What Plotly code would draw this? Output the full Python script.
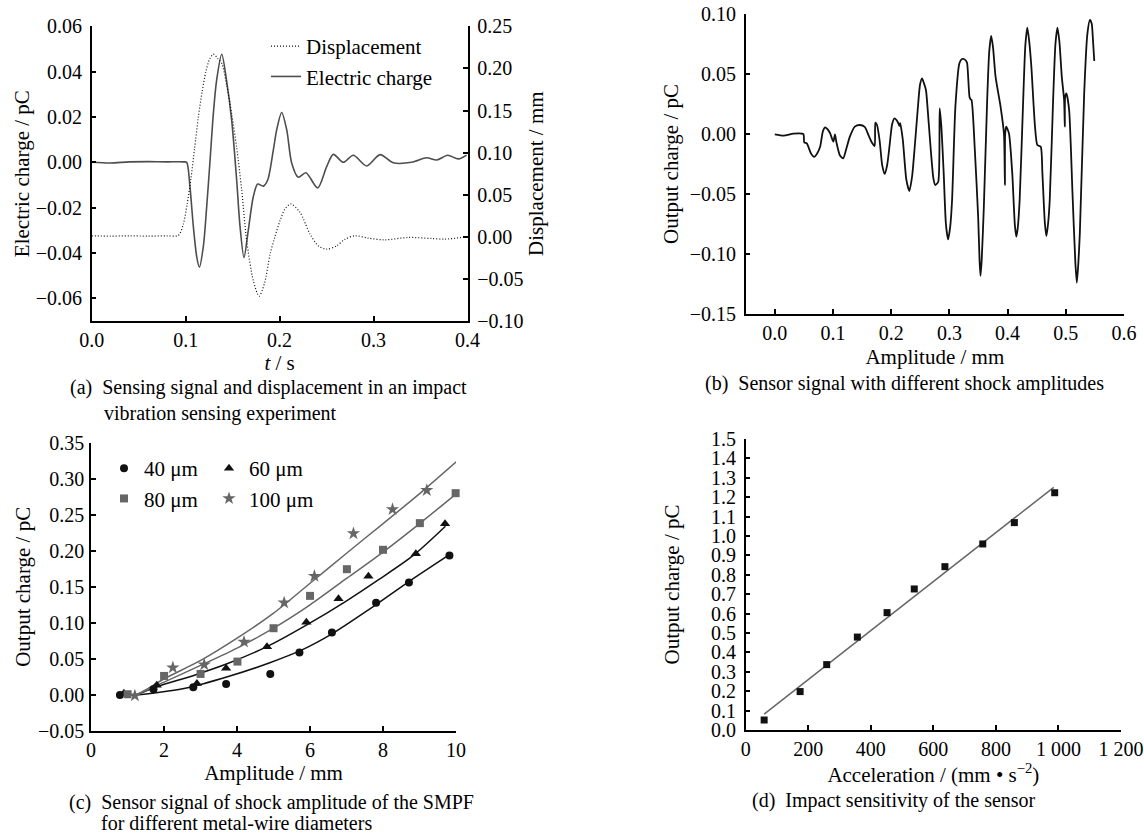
import plotly.graph_objects as go

FONT = "Liberation Serif"
W, H = 1144, 835

# ---------------- Panel (a) ----------------
a_charge_t = [0.0, 0.02, 0.04, 0.06, 0.08, 0.098, 0.1011, 0.1046, 0.1082, 0.1118, 0.1146, 0.1188,
              0.1224, 0.126, 0.1295, 0.1330, 0.1384, 0.1437, 0.149, 0.1543, 0.1579, 0.1621, 0.1667,
              0.172, 0.1767, 0.1827, 0.1873, 0.1933, 0.1969, 0.2022, 0.2076, 0.2129, 0.2199, 0.2280,
              0.2405, 0.2501, 0.2572, 0.2678, 0.2785, 0.2927, 0.3069, 0.321, 0.3406, 0.3566, 0.3672,
              0.3789, 0.3902, 0.399]
a_charge_v = [0.0, -0.0003, 0.0002, 0.0003, 0.0002, 0.0002, 0.0, -0.0108, -0.0284, -0.0417, -0.0463,
              -0.0372, -0.0196, 0.001, 0.0216, 0.0363, 0.0477, 0.0356, 0.0185, -0.0078, -0.0284,
              -0.0420, -0.0299, -0.0152, -0.0096, -0.0105, -0.0078, 0.0054, 0.0143, 0.022, 0.0143,
              -0.0004, -0.0066, -0.0046, -0.0113, -0.0019, 0.0035, 0.0, 0.0031, -0.0016, 0.0034,
              -0.0002, 0.0, 0.002, 0.001, 0.0031, 0.0015, 0.0032]

a_disp_t = [0.0, 0.02, 0.04, 0.06, 0.08, 0.0922, 0.0975, 0.1015, 0.1055, 0.1095, 0.1135, 0.1175,
            0.1215, 0.1255, 0.1295, 0.1340, 0.1384, 0.1437, 0.149, 0.1543, 0.1597, 0.165, 0.1721,
            0.1782, 0.1840, 0.1898, 0.1950, 0.2004, 0.2057, 0.2120, 0.2217, 0.2324, 0.2412, 0.2501,
            0.2608, 0.2696, 0.2803, 0.2944, 0.3122, 0.337, 0.3619, 0.376, 0.399]
a_disp_v = [0.0012, 0.0008, 0.0012, 0.0008, 0.0012, 0.0015, 0.015, 0.038, 0.068, 0.105, 0.142, 0.172,
            0.196, 0.211, 0.217, 0.212, 0.206, 0.180, 0.146, 0.106, 0.055, -0.005, -0.0525,
            -0.0705, -0.055, -0.021, 0.0, 0.019, 0.033, 0.039, 0.029, 0.0032, -0.0107, -0.0147,
            -0.0107, -0.0028, 0.0012, -0.0016, -0.0036, -0.0008, -0.002, -0.0028, 0.0]

# ---------------- Panel (b) ----------------
b_amp = [0.0, 0.0153, 0.032, 0.049, 0.0506, 0.055, 0.062, 0.0676, 0.073, 0.078, 0.0825, 0.0864,
         0.0905, 0.095, 0.1006, 0.1034, 0.106, 0.112, 0.1176, 0.123, 0.129, 0.1375, 0.146, 0.1545,
         0.161, 0.166, 0.1716, 0.1727, 0.1756, 0.18, 0.1845, 0.1886, 0.193, 0.197, 0.2015, 0.2057,
         0.211, 0.2142, 0.2155, 0.22, 0.226, 0.2312, 0.236, 0.24, 0.2455, 0.2495, 0.253, 0.2565,
         0.2597, 0.264, 0.268, 0.2725, 0.2756, 0.2807, 0.2833, 0.2862, 0.2902, 0.294, 0.2977,
         0.3012, 0.3046, 0.3103, 0.3172, 0.3215, 0.3247, 0.3285, 0.3305, 0.3345, 0.3362, 0.338,
         0.3437, 0.3494, 0.3518, 0.3534, 0.3555, 0.3592, 0.3649, 0.3685, 0.3718, 0.375, 0.3793,
         0.3879, 0.3937, 0.3954, 0.3958, 0.3977, 0.4023, 0.408, 0.4125, 0.415, 0.4175, 0.4207,
         0.4264, 0.4305, 0.4339, 0.4372, 0.4408, 0.4471, 0.4511, 0.4569, 0.4598, 0.464, 0.4667,
         0.4695, 0.4724, 0.4782, 0.4822, 0.4856, 0.489, 0.4931, 0.4971, 0.4983, 0.4989, 0.5011,
         0.5057, 0.5115, 0.5165, 0.519, 0.5215, 0.5241, 0.5316, 0.537, 0.5414, 0.5445, 0.546,
         0.5489]
b_charge = [-0.0003, -0.0014, 0.0003, 0.0, -0.007, -0.0078, -0.016, -0.019, -0.016, -0.0105, 0.002,
            0.0056, 0.004, 0.0006, -0.0064, -0.0003, -0.0072, -0.018, -0.0203, -0.012, -0.0022,
            0.0061, 0.0075, 0.006, -0.001, -0.0064, -0.010, 0.0094, 0.0075, -0.005, -0.026,
            -0.0333, -0.026, -0.0106, 0.008, 0.013, 0.0103, 0.0067, 0.009, -0.005, -0.038, -0.0475,
            -0.035, -0.0133, 0.02, 0.041, 0.0464, 0.042, 0.0367, 0.012, -0.0133, -0.037, -0.0425,
            -0.040, 0.0214, 0.006, -0.0328, -0.075, -0.0878, -0.078, -0.055, 0.0228, 0.0589,
            0.0625, 0.0625, 0.061, 0.0589, 0.031, 0.029, 0.0283, -0.0133, -0.0689, -0.105, -0.1183,
            -0.105, -0.0606, 0.0283, 0.069, 0.0817, 0.072, 0.0478, 0.0228, 0.0006, -0.0425, 0.0,
            0.0061, 0.0006, -0.0328, -0.076, -0.0856, -0.078, -0.055, 0.0228, 0.074, 0.0886, 0.077,
            0.0561, 0.0061, -0.0092, -0.0106, -0.0328, -0.074, -0.085, -0.075, -0.055, 0.0283,
            0.075, 0.0886, 0.077, 0.0478, 0.0283, 0.0061, 0.031, 0.0339, 0.02, -0.0494, -0.108,
            -0.1239, -0.108, -0.0828, 0.0339, 0.083, 0.095, 0.092, 0.0839, 0.0608]

# ---------------- Panel (c) ----------------
c_x40 = [0.79, 1.71, 2.8, 3.7, 4.91, 5.71, 6.6, 7.81, 8.71, 9.82]
c_y40 = [0.0, 0.008, 0.0107, 0.0153, 0.029, 0.0588, 0.0866, 0.128, 0.156, 0.1935]
c_x60 = [0.9, 1.8, 2.9, 3.7, 4.82, 5.9, 6.78, 7.6, 8.9, 9.7]
c_y60 = [0.0025, 0.0135, 0.016, 0.037, 0.067, 0.101, 0.1335, 0.1648, 0.1958, 0.2375]
c_x80 = [1.0, 2.0, 3.0, 4.01, 5.0, 6.0, 7.01, 8.0, 9.01, 9.99]
c_y80 = [0.001, 0.0264, 0.0292, 0.0463, 0.0926, 0.1375, 0.1745, 0.2014, 0.2384, 0.28]
c_x100 = [1.2, 2.24, 3.1, 4.19, 5.29, 6.12, 7.19, 8.26, 9.2, 10.27]
c_y100 = [-0.001, 0.038, 0.0421, 0.0736, 0.128, 0.165, 0.224, 0.2575, 0.284, 0.33]

c_fit40_x = [1.0, 1.2, 2.58, 3.76, 4.86, 5.78, 6.6, 7.6, 8.7, 9.8]
c_fit40_y = [0.0, 0.0, 0.0093, 0.0255, 0.044, 0.0625, 0.0847, 0.118, 0.157, 0.194]
c_fit60_x = [1.0, 1.2, 1.8, 2.85, 3.76, 4.82, 5.91, 6.97, 7.88, 8.84, 9.71]
c_fit60_y = [0.001, 0.0, 0.0115, 0.0278, 0.044, 0.067, 0.0972, 0.1296, 0.16, 0.194, 0.234]
c_fit80_x = [1.0, 1.2, 2.03, 3.03, 4.0, 5.0, 6.0, 7.01, 8.02, 9.02, 9.98]
c_fit80_y = [0.001, 0.0, 0.0185, 0.0417, 0.065, 0.0926, 0.125, 0.162, 0.199, 0.2385, 0.278]
c_fit100_x = [1.0, 1.2, 2.03, 3.03, 4.0, 5.0, 6.0, 7.01, 8.02, 9.02, 10.2]
c_fit100_y = [0.001, 0.0, 0.0232, 0.0486, 0.0787, 0.1135, 0.155, 0.197, 0.2385, 0.28, 0.332]

c_names = ["40 μm", "60 μm", "80 μm", "100 μm"]

# ---------------- Panel (d) ----------------
d_acc = [59, 174, 259, 357, 452, 539, 637, 758, 859, 988]
d_charge = [0.0515, 0.198, 0.337, 0.479, 0.605, 0.727, 0.842, 0.959, 1.069, 1.223]
d_fit_x = [59, 985]
d_fit_y = [0.082, 1.251]
d_tickvals = [0, 200, 400, 600, 800, 1000, 1200]
d_ticktext = ["0", "200", "400", "600", "800", "1 000", "1 200"]

# ---------------- Figure ----------------
BLACK = "#111111"
GRAY = "#666666"
DGRAY = "#4d4d4d"

fig = go.Figure()

# (a)
fig.add_trace(go.Scatter(x=a_charge_t, y=a_charge_v, mode="lines", name="Electric charge",
                         line=dict(color=DGRAY, width=1.6, shape="spline", smoothing=0.8),
                         xaxis="x", yaxis="y", legend="legend", legendrank=2))
fig.add_trace(go.Scatter(x=a_disp_t, y=a_disp_v, mode="lines", name="Displacement",
                         line=dict(color=BLACK, width=1.2, dash="1px,2px", shape="spline",
                                   smoothing=0.8),
                         xaxis="x", yaxis="y2", legend="legend", legendrank=1))

# (b)
fig.add_trace(go.Scatter(x=b_amp, y=b_charge, mode="lines", showlegend=False,
                         line=dict(color=BLACK, width=1.8, shape="spline", smoothing=0.6),
                         xaxis="x2", yaxis="y3"))

# (c)
c_sets = [(c_x40, c_y40, c_fit40_x, c_fit40_y, "circle", BLACK, 8, "g1"),
          (c_x60, c_y60, c_fit60_x, c_fit60_y, "triangle-up", BLACK, 9, "g2"),
          (c_x80, c_y80, c_fit80_x, c_fit80_y, "square", GRAY, 8, "g1"),
          (c_x100, c_y100, c_fit100_x, c_fit100_y, "star", GRAY, 10, "g2")]
for (mx, my, fx, fy, sym, col, sz, grp), nm in zip(c_sets, c_names):
    fig.add_trace(go.Scatter(x=fx, y=fy, mode="lines", showlegend=False,
                             line=dict(color=col, width=1.5, shape="spline", smoothing=0.8),
                             xaxis="x3", yaxis="y4"))
for (mx, my, fx, fy, sym, col, sz, grp), nm in zip(c_sets, c_names):
    fig.add_trace(go.Scatter(x=mx, y=my, mode="markers", name=nm, legend="legend2",
                             legendgroup=grp,
                             marker=dict(symbol=sym, size=sz, color=col, line=dict(width=0)),
                             cliponaxis=False, xaxis="x3", yaxis="y4"))

# (d)
fig.add_trace(go.Scatter(x=d_fit_x, y=d_fit_y, mode="lines", showlegend=False,
                         line=dict(color=GRAY, width=1.5), xaxis="x4", yaxis="y5"))
fig.add_trace(go.Scatter(x=d_acc, y=d_charge, mode="markers", showlegend=False,
                         marker=dict(symbol="square", size=7, color=BLACK),
                         cliponaxis=False, xaxis="x4", yaxis="y5"))

def ax(**kw):
    base = dict(showline=True, linecolor="black", linewidth=1.5, ticks="inside", ticklen=5,
                tickwidth=1.5, tickcolor="black", showgrid=False, zeroline=False,
                automargin=False, ticklabeloverflow="allow",
                tickfont=dict(family=FONT, size=20, color="black"),
                title_font=dict(family=FONT, size=21, color="black"))
    base.update(kw)
    return base

def px2fx(p):
    return p / W

def py2fy(p):
    return 1 - p / H

fig.update_layout(
    width=W, height=H, margin=dict(l=0, r=0, t=0, b=0, autoexpand=False),
    paper_bgcolor="white", plot_bgcolor="white",
    font=dict(family=FONT, size=20, color="black"),
    xaxis=ax(domain=[px2fx(91.7), px2fx(467.5)], anchor="y", range=[0, 0.4], dtick=0.1,
             tickformat=".1f", title=dict(text="<i>t</i> / s", standoff=1)),
    yaxis=ax(domain=[py2fy(321), py2fy(26.3)], anchor="x", range=[-0.07, 0.06],
             tickvals=[-0.06, -0.04, -0.02, 0.0, 0.02, 0.04, 0.06], tickformat=".2f",
             ticklabelstandoff=4, title=dict(text="Electric charge / pC", standoff=0)),
    yaxis2=ax(overlaying="y", side="right", anchor="x", range=[-0.10, 0.25], dtick=0.05,
              tickformat=".2f", ticklabelstandoff=4,
              title=dict(text="Displacement / mm", standoff=6)),
    xaxis2=ax(domain=[px2fx(745.7), px2fx(1124)], anchor="y3", range=[-0.05, 0.6],
              tickvals=[0, 0.1, 0.2, 0.3, 0.4, 0.5, 0.6], tickformat=".1f",
              title=dict(text="Amplitude / mm", standoff=7)),
    yaxis3=ax(domain=[py2fy(314), py2fy(14)], anchor="x2", range=[-0.15, 0.10], dtick=0.05,
              tickformat=".2f", ticklabelstandoff=4,
              title=dict(text="Output charge / pC", standoff=5)),
    xaxis3=ax(domain=[px2fx(91.1), px2fx(456)], anchor="y4", range=[0, 10], dtick=2,
              title=dict(text="Amplitude / mm", standoff=4)),
    yaxis4=ax(domain=[py2fy(731), py2fy(442.7)], anchor="x3", range=[-0.05, 0.35], dtick=0.05,
              tickformat=".2f", ticklabelstandoff=1,
              title=dict(text="Output charge / pC", standoff=2)),
    xaxis4=ax(domain=[px2fx(745.7), px2fx(1121)], anchor="y5", range=[0, 1200],
              tickvals=d_tickvals, ticktext=d_ticktext,
              title=dict(text="Acceleration / (mm • s<sup>−2</sup>)", standoff=3)),
    yaxis5=ax(domain=[py2fy(730), py2fy(439)], anchor="x4", range=[0, 1.5], dtick=0.1,
              tickformat=".1f", ticklabelstandoff=4,
              title=dict(text="Output charge / pC", standoff=26)),
    legend=dict(x=px2fx(266), y=py2fy(26), xanchor="left", yanchor="top",
                bgcolor="rgba(0,0,0,0)", borderwidth=0,
                font=dict(family=FONT, size=21, color="black"), tracegroupgap=0),
    legend2=dict(x=px2fx(104), y=py2fy(448), xanchor="left", yanchor="top",
                 orientation="h", traceorder="grouped", tracegroupgap=0,
                 entrywidth=60, entrywidthmode="pixels",
                 bgcolor="rgba(0,0,0,0)", borderwidth=0,
                 font=dict(family=FONT, size=21, color="black")),
)

NB = "\u00a0"
captions = [
    ("(a)" + NB * 2 + "Sensing signal and displacement in an impact", 68, 387),
    ("vibration sensing experiment", 102, 413),
    ("(b)" + NB * 2 + "Sensor signal with different shock amplitudes", 703, 383),
    ("(c)" + NB * 2 + "Sensor signal of shock amplitude of the SMPF", 67, 802),
    ("for different metal-wire diameters", 99, 823),
    ("(d)" + NB * 2 + "Impact sensitivity of the sensor", 750, 800),
]
for txt, xp, yp in captions:
    fig.add_annotation(text=txt, x=px2fx(xp), y=py2fy(yp), xref="paper", yref="paper",
                       xanchor="left", yanchor="middle", showarrow=False,
                       font=dict(family=FONT, size=20, color="black"))

fig.write_html("out.html",
               config={"displayModeBar": False},
               post_script="document.body.style.margin='0';"
                           "document.body.style.padding='0';"
                           "document.body.style.overflow='hidden';")
